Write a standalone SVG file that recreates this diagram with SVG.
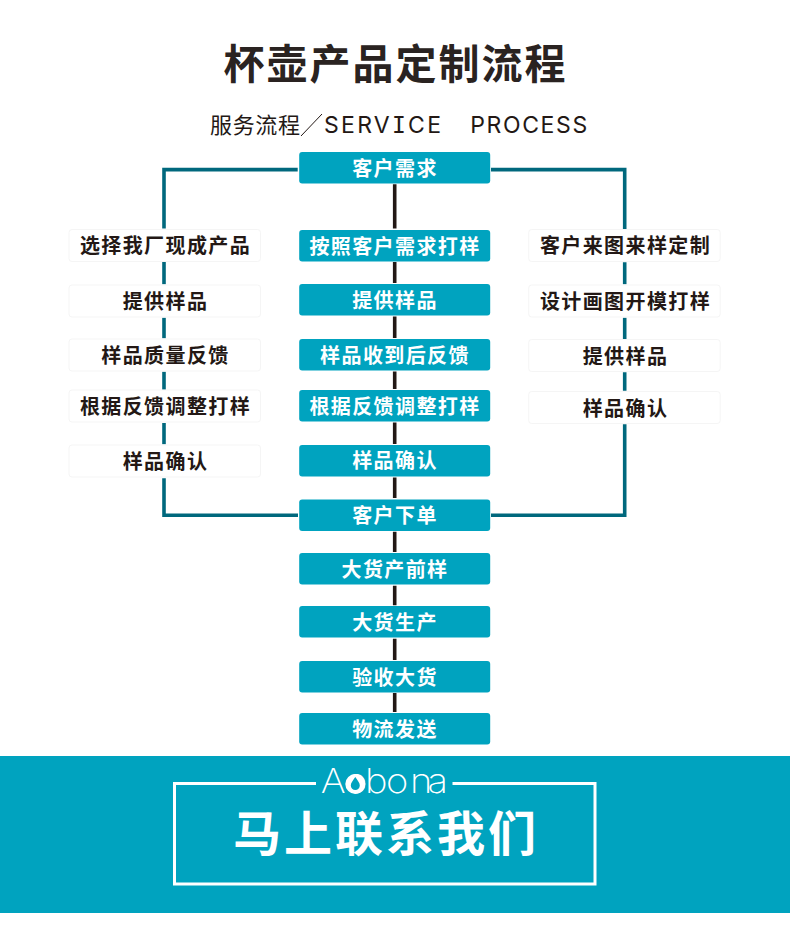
<svg xmlns="http://www.w3.org/2000/svg" width="790" height="949" viewBox="0 0 790 949">
<style>
text{font-family:"Noto Sans CJK SC","Noto Sans",sans-serif;text-anchor:middle}
.c rect{fill:#00a3bf}
.c text{fill:#fff;font-size:20px;font-weight:700;letter-spacing:1.4px}
.s rect{fill:#fff;stroke:#f5f5f5;stroke-width:1}
.s text{fill:#231815;font-size:20px;font-weight:700;letter-spacing:1.4px}
.en{font-family:Inter,sans-serif;font-size:23px;fill:#231815}
.en tspan{font-family:"DejaVu Sans Mono",monospace}
</style>
<rect width="790" height="949" fill="#fff"/>
<g id="connectors" fill="none">
<path d="M297.700 169.600H164V228.500M164 262V284.300M164 317.700V338.300M164 371.700V389.700M164 423V444.300M164 478.300V515.200H298" stroke="#00687d" stroke-width="3.600"/>
<path d="M491 169.600H624.700V229M624.700 262.300V284.300M624.700 317.700V339M624.700 372.300V390.700M624.700 424.300V515.200H491" stroke="#00687d" stroke-width="3.600"/>
<path d="M394.700 184.300V228.500M394.700 262V283M394.700 316.500V338M394.700 371.500V389M394.700 422.500V444M394.700 477.500V498M394.700 531.700V552M394.700 585.700V605.300M394.700 638.700V660M394.700 693V712" stroke="#231815" stroke-width="3.600"/>
</g>
<g id="title"><text x="395.500" y="79" font-size="41" font-weight="700" fill="#2a2321" style="letter-spacing:2px">杯壶产品定制流程</text></g>
<g id="subtitle">
<text x="255" y="133" font-size="22" fill="#231815" textLength="90">服务流程</text>
<path d="M301 136L322 114" stroke="#231815" stroke-width="1" fill="none"/>
<text x="382.500" y="133.300" class="en" textLength="117">SERV<tspan>I</tspan>CE</text>
<text x="528.700" y="133.300" class="en" textLength="117">PROCESS</text>
</g>
<g id="c1" class="c"><rect x="299.200" y="152" width="191" height="31.500" rx="3"/><text x="395" y="175.500">客户需求</text></g>
<g id="c2" class="c"><rect x="299.200" y="230" width="191" height="31.500" rx="3"/><text x="395" y="253.500">按照客户需求打样</text></g>
<g id="c3" class="c"><rect x="299.200" y="284" width="191" height="31.500" rx="3"/><text x="395" y="307.500">提供样品</text></g>
<g id="c4" class="c"><rect x="299.200" y="339" width="191" height="31.500" rx="3"/><text x="395" y="362.500">样品收到后反馈</text></g>
<g id="c5" class="c"><rect x="299.200" y="390" width="191" height="31.500" rx="3"/><text x="395" y="413.500">根据反馈调整打样</text></g>
<g id="c6" class="c"><rect x="299.200" y="445" width="191" height="31.500" rx="3"/><text x="395" y="468">样品确认</text></g>
<g id="c7" class="c"><rect x="299.200" y="499.500" width="191" height="31.500" rx="3"/><text x="395" y="523">客户下单</text></g>
<g id="c8" class="c"><rect x="299.200" y="553" width="191" height="31.500" rx="3"/><text x="395" y="576.500">大货产前样</text></g>
<g id="c9" class="c"><rect x="299.200" y="606" width="191" height="31.500" rx="3"/><text x="395" y="629.500">大货生产</text></g>
<g id="c10" class="c"><rect x="299.200" y="661" width="191" height="31.500" rx="3"/><text x="395" y="684.500">验收大货</text></g>
<g id="c11" class="c"><rect x="299.200" y="713" width="191" height="31.500" rx="3"/><text x="395" y="736.500">物流发送</text></g>
<g id="l1" class="s"><rect x="69" y="229.500" width="191.500" height="32" rx="3"/><text x="165.500" y="253">选择我厂现成产品</text></g>
<g id="l2" class="s"><rect x="69" y="285" width="191.500" height="32" rx="3"/><text x="165.500" y="308.500">提供样品</text></g>
<g id="l3" class="s"><rect x="69" y="339" width="191.500" height="32" rx="3"/><text x="165.500" y="362.500">样品质量反馈</text></g>
<g id="l4" class="s"><rect x="69" y="390" width="191.500" height="32" rx="3"/><text x="165.500" y="413.500">根据反馈调整打样</text></g>
<g id="l5" class="s"><rect x="69" y="445" width="191.500" height="32" rx="3"/><text x="165.500" y="468.500">样品确认</text></g>
<g id="r1" class="s"><rect x="528.700" y="229.500" width="191.500" height="32" rx="3"/><text x="625.500" y="253">客户来图来样定制</text></g>
<g id="r2" class="s"><rect x="528.700" y="285" width="191.500" height="32" rx="3"/><text x="625.500" y="308.500">设计画图开模打样</text></g>
<g id="r3" class="s"><rect x="528.700" y="339.500" width="191.500" height="32" rx="3"/><text x="625.500" y="364">提供样品</text></g>
<g id="r4" class="s"><rect x="528.700" y="391.500" width="191.500" height="32" rx="3"/><text x="625.500" y="415.500">样品确认</text></g>
<g id="banner">
<rect x="0" y="756" width="790" height="157" fill="#00a3bf"/>
<path d="M316 783.500H174.500V884H595V783.500H452.500" fill="none" stroke="#fff" stroke-width="3"/>
<text transform="scale(1.12 1)" x="286.300 308 325.900 344.600 366.100 381.700" y="792.700" font-size="34" fill="#fff" style="font-family:Inter,sans-serif;font-weight:200;text-anchor:start">Aobona</text>
<circle cx="355.300" cy="784" r="10" fill="#fff"/>
<path d="M355.300 777C352.800 780.500 350.800 783 350.800 785.500A4.500 4.500 0 0 0 359.800 785.500C359.800 783 357.800 780.500 355.300 777Z" fill="#00a3bf"/>
<text x="386" y="851" font-size="48" font-weight="700" fill="#fff" style="letter-spacing:3px">马上联系我们</text>
</g>
</svg>
